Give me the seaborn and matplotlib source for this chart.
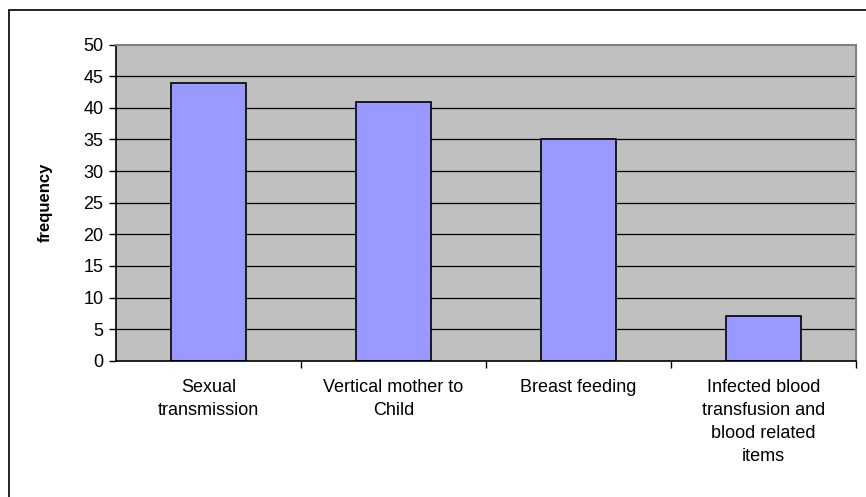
import matplotlib
matplotlib.use("Agg")
import matplotlib.pyplot as plt
from matplotlib.lines import Line2D
from matplotlib.ticker import FixedLocator
import seaborn as sns
import pandas as pd

categories = ["Sexual\ntransmission", "Vertical mother to\nChild", "Breast feeding",
              "Infected blood\ntransfusion and\nblood related\nitems"]
frequency = [44, 41, 35, 7]
y_ticks = [0, 5, 10, 15, 20, 25, 30, 35, 40, 45, 50]

sns.set_theme(style="white")
plt.rcParams["font.family"] = ["Liberation Sans", "DejaVu Sans"]
plt.rcParams["text.color"] = "black"
plt.rcParams["axes.labelcolor"] = "black"
plt.rcParams["xtick.color"] = "black"
plt.rcParams["ytick.color"] = "black"

df = pd.DataFrame({"category": categories, "frequency": frequency})

fig = plt.figure(figsize=(8.66, 4.97), dpi=100)
ax = fig.add_axes([116/866, 1 - 360.7/497, 740/866, 316/497])
ax.set_facecolor("#C0C0C0")

for v in y_ticks[1:-1]:
    ax.axhline(v, color="black", lw=0.9, zorder=0.5)

sns.barplot(data=df, x="category", y="frequency", color="#9999FF", saturation=1,
            edgecolor="black", linewidth=1.2, width=0.41, ax=ax, zorder=2)

ax.set_ylim(0, 50)
ax.set_xlim(-0.5, 3.5)
ax.set_yticks(y_ticks)
ax.tick_params(axis="y", which="major", direction="out", length=5, width=1, color="black",
               labelsize=13, pad=4, left=True, labelcolor="black")
ax.xaxis.set_minor_locator(FixedLocator([0.5, 1.5, 2.5, 3.5]))
ax.tick_params(axis="x", which="major", length=0, labelsize=13, pad=13, labelcolor="black")
ax.tick_params(axis="x", which="minor", direction="out", length=5, width=1, color="black", bottom=True)
for lab in ax.get_xticklabels():
    lab.set_linespacing(1.48)
ax.set_xlabel("")
ax.set_ylabel("frequency", fontsize=12, fontweight="bold", labelpad=22, color="black")

for side in ["left", "bottom"]:
    ax.spines[side].set_color("black")
    ax.spines[side].set_linewidth(1.2)
for side in ["top", "right"]:
    ax.spines[side].set_color("#808080")
    ax.spines[side].set_linewidth(1.5)
    ax.spines[side].set_visible(True)

# figure border (left and top)
fig.add_artist(Line2D([9/866, 9/866], [0, 1 - 10/497], transform=fig.transFigure, color="black", lw=1.2))
fig.add_artist(Line2D([9/866, 1], [1 - 10/497, 1 - 10/497], transform=fig.transFigure, color="black", lw=1.2))

fig.savefig("out.png", dpi=100)
